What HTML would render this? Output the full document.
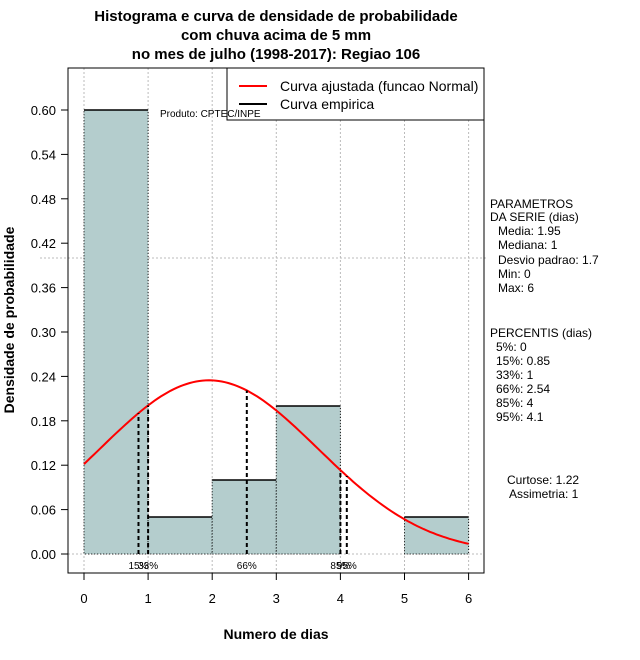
<!DOCTYPE html>
<html><head><meta charset="utf-8"><style>
body{margin:0;background:#fff;}
svg{display:block;font-family:"Liberation Sans",sans-serif;}
</style></head><body>
<svg id="chart" width="640" height="660" viewBox="0 0 640 660" xmlns="http://www.w3.org/2000/svg">
<g font-weight="bold" font-size="15" text-anchor="middle">
<text x="276" y="21">Histograma e curva de densidade de probabilidade</text>
<text x="276" y="40">com chuva acima de 5 mm</text>
<text x="276" y="59">no mes de julho (1998-2017): Regiao 106</text>
</g>
<g id="grid"></g>
<g id="bars"></g>
<g id="curve"></g>
<g id="pct"></g>
<rect x="68" y="68" width="416" height="505" fill="none" stroke="#000" stroke-width="1"/>
<g id="axes"></g>
<g>
<rect x="227" y="68" width="257" height="52" fill="#fff" stroke="#000"/>
<line x1="239" y1="86" x2="267" y2="86" stroke="red" stroke-width="2"/>
<text x="280" y="91" font-size="14">Curva ajustada (funcao Normal)</text>
<line x1="239" y1="104" x2="267" y2="104" stroke="#000" stroke-width="2"/>
<text x="280" y="109" font-size="14">Curva empirica</text>
</g>
<text x="160" y="117" font-size="10">Produto: CPTEC/INPE</text>
<text x="276" y="639" font-size="14" font-weight="bold" text-anchor="middle">Numero de dias</text>
<text transform="translate(14,320) rotate(-90)" font-size="14" font-weight="bold" text-anchor="middle">Densidade de probabilidade</text>
<g font-size="12">
<text x="490" y="208">PARAMETROS</text>
<text x="490" y="221">DA SERIE (dias)</text>
<text x="498" y="235">Media: 1.95</text>
<text x="498" y="249">Mediana: 1</text>
<text x="498" y="264">Desvio padrao: 1.7</text>
<text x="498" y="278">Min: 0</text>
<text x="498" y="292">Max: 6</text>
<text x="490" y="337">PERCENTIS (dias)</text>
<text x="496" y="351">5%: 0</text>
<text x="496" y="365">15%: 0.85</text>
<text x="496" y="379">33%: 1</text>
<text x="496" y="393">66%: 2.54</text>
<text x="496" y="407">85%: 4</text>
<text x="496" y="421">95%: 4.1</text>
<text x="507" y="484">Curtose: 1.22</text>
<text x="509" y="498">Assimetria: 1</text>
</g>
</svg>
<script>
const binStarts=[0,1,2,3,4,5];
const binDensity=[0.60,0.05,0.10,0.20,0.00,0.05];
const yTicks=[0,0.06,0.12,0.18,0.24,0.30,0.36,0.42,0.48,0.54,0.60];
const yTickLabels=["0.00","0.06","0.12","0.18","0.24","0.30","0.36","0.42","0.48","0.54","0.60"];
const xTicks=[0,1,2,3,4,5,6];
const pctValues=[0.85,1,2.54,4,4.1];
const pctLabels=["15%","33%","66%","85%","95%"];
const fitMean=1.95;
const fitSd=1.7;
const refLine=0.40;

const NS="http://www.w3.org/2000/svg";
const X=v=>84+v*64.1;
const Y=v=>554-v*740;
function mk(p,tag,at){const e=document.createElementNS(NS,tag);for(const k in at)e.setAttribute(k,at[k]);document.getElementById(p).appendChild(e);return e;}
const dens=x=>Math.exp(-((x-fitMean)**2)/(2*fitSd*fitSd))/(fitSd*Math.sqrt(2*Math.PI));

xTicks.forEach(t=>{const l=mk('grid','line',{x1:X(t),y1:68,x2:X(t),y2:573,stroke:'#bbb','stroke-dasharray':'2,2'});

});
let g0=mk('grid','line',{x1:68,y1:Y(0),x2:484,y2:Y(0),stroke:'#bbb','stroke-dasharray':'2,2'});


let rl=mk('grid','line',{x1:40,y1:Y(refLine),x2:487,y2:Y(refLine),stroke:'#bbb','stroke-dasharray':'2,2'});



binStarts.forEach((b,i)=>{const d=binDensity[i];if(d<=0)return;
const r=mk('bars','rect',{x:X(b),y:Y(d),width:X(b+1)-X(b),height:Y(0)-Y(d),fill:'#b4cdcd',stroke:'#000','stroke-dasharray':'1,2','stroke-width':1});


const t=mk('bars','line',{x1:X(b),y1:Y(d),x2:X(b+1),y2:Y(d),stroke:'#000','stroke-width':1.5});

});

let pts=[];for(let i=0;i<=120;i++){const x=6*i/120;pts.push(X(x).toFixed(1)+','+Y(dens(x)).toFixed(1));}
const c=mk('curve','polyline',{points:pts.join(' '),fill:'none',stroke:'red','stroke-width':2});



pctValues.forEach((p,i)=>{const l=mk('pct','line',{x1:X(p),y1:Y(0),x2:X(p),y2:Y(dens(p)),stroke:'#000','stroke-width':2,'stroke-dasharray':'4,3'});


const t=mk('pct','text',{x:X(p),y:569,'font-size':10,'text-anchor':'middle'});t.textContent=pctLabels[i];

});

yTicks.forEach((v,i)=>{const l=mk('axes','line',{x1:61,y1:Y(v),x2:68,y2:Y(v),stroke:'#000'});


const t=mk('axes','text',{x:56,y:Y(v)+5,'font-size':13,'text-anchor':'end'});t.textContent=yTickLabels[i];

});
xTicks.forEach(v=>{const l=mk('axes','line',{x1:X(v),y1:573,x2:X(v),y2:580,stroke:'#000'});


const t=mk('axes','text',{x:X(v),y:603,'font-size':13,'text-anchor':'middle'});t.textContent=v;

});
</script>
</body></html>
